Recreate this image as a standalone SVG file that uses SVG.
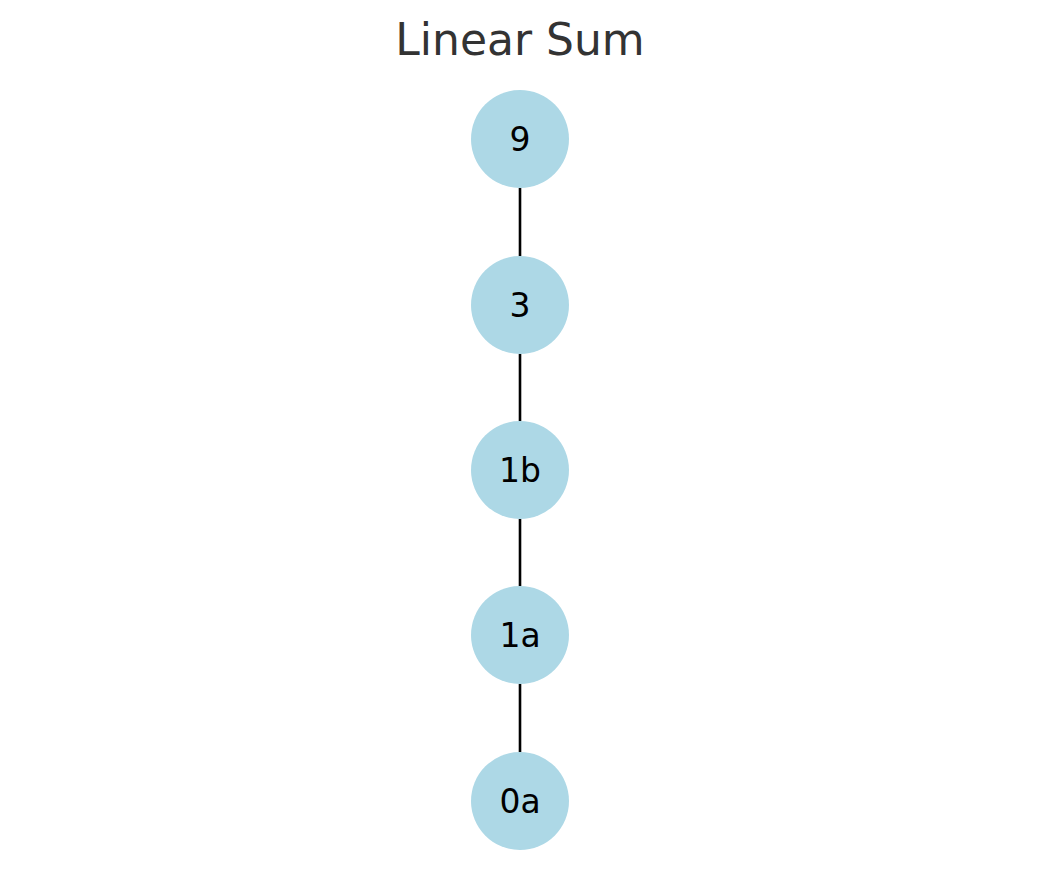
<svg xmlns="http://www.w3.org/2000/svg" width="1039" height="890" viewBox="0 0 1039 890">
<style>
.n{fill:#ADD8E6}
.t{font-family:"DejaVu Sans",sans-serif;font-size:33px;fill:#000;text-anchor:middle}
.e{stroke:#000;stroke-width:2.6}
</style>
<rect width="1039" height="890" fill="#fff"/>
<text x="520" y="55" style="font-family:'DejaVu Sans',sans-serif;font-size:44px;fill:#333;text-anchor:middle">Linear Sum</text>
<g id="connectors">
<line class="e" x1="520" y1="188" x2="520" y2="256"/>
<line class="e" x1="520" y1="354" x2="520" y2="421"/>
<line class="e" x1="520" y1="519" x2="520" y2="586"/>
<line class="e" x1="520" y1="684" x2="520" y2="752"/>
</g>
<g id="n9"><circle class="n" cx="520" cy="139" r="49"/><text class="t" x="520" y="151">9</text></g>
<g id="n3"><circle class="n" cx="520" cy="305" r="49"/><text class="t" x="520" y="317">3</text></g>
<g id="n1b"><circle class="n" cx="520" cy="470" r="49"/><text class="t" x="520" y="482">1b</text></g>
<g id="n1a"><circle class="n" cx="520" cy="635" r="49"/><text class="t" x="520" y="647">1a</text></g>
<g id="n0a"><circle class="n" cx="520" cy="801" r="49"/><text class="t" x="520" y="813">0a</text></g>
</svg>
